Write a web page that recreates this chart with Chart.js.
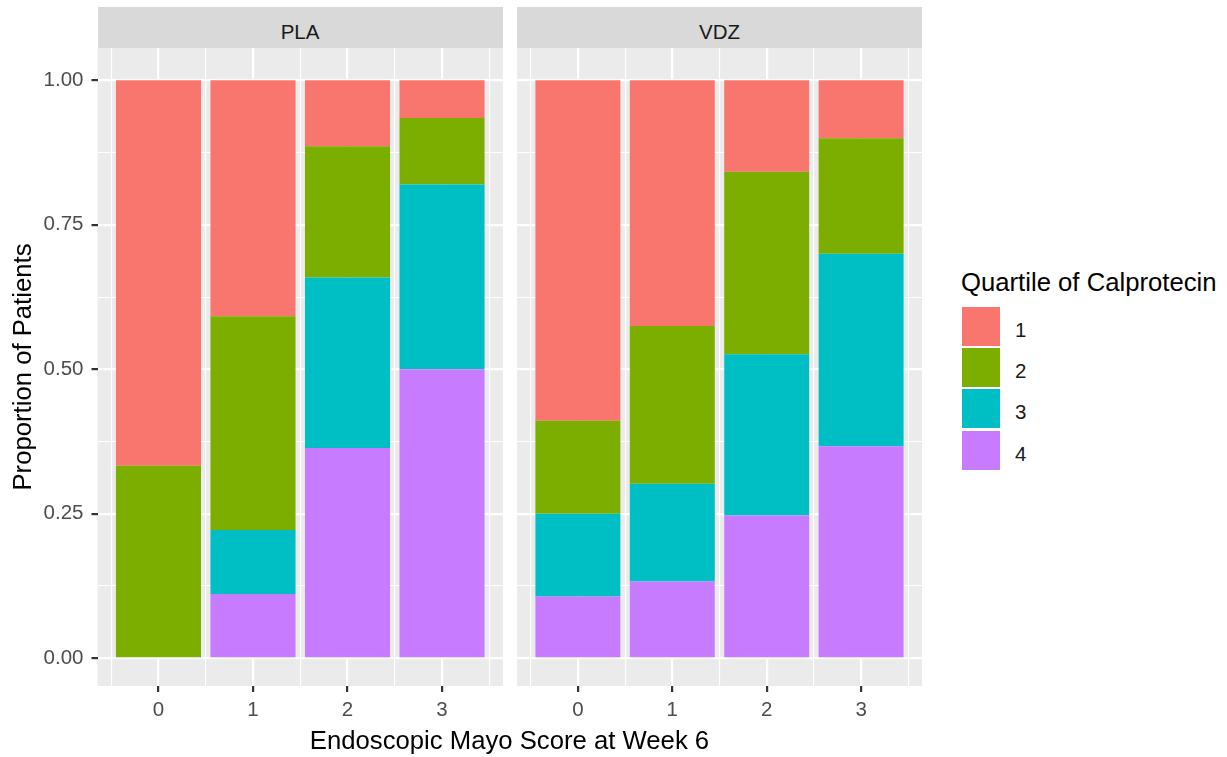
<!DOCTYPE html>
<html>
<head>
<meta charset="utf-8">
<script src="https://cdn.jsdelivr.net/npm/chart.js@4.4.1/dist/chart.umd.min.js"></script>
<style>
  html, body { margin: 0; padding: 0; background: #fff; }
  body {
    width: 1227px; height: 757px; position: relative; overflow: hidden;
    font-family: "Liberation Sans", Arial, sans-serif;
  }
  canvas { position: absolute; top: 0; }
  .strip {
    position: absolute; top: 7px; height: 41px; background: #D9D9D9;
    color: #1A1A1A; font-size: 20.5px; line-height: 41px; text-align: center;
    box-sizing: border-box; padding-top: 4px;
  }
  #xTitle {
    position: absolute; left: 0; width: 1019px; top: 728px;
    font-size: 25.7px; line-height: 25.7px; color: #000; text-align: center;
  }
  #legend { position: absolute; left: 961px; top: 270px; }
  #legend .title { font-size: 25.7px; line-height: 25.7px; color: #000; margin-bottom: 11px; }
  #legend .row { height: 41.3px; position: relative; }
  #legend .key {
    position: absolute; left: 1px; top: 0; width: 38px; height: 39px;
  }
  #legend .lab {
    position: absolute; left: 54px; top: 0; font-size: 20.5px;
    line-height: 41.3px; padding-top: 2px; color: #1A1A1A;
  }
</style>
</head>
<body>
<div class="strip" style="left:97.5px;width:405px;">PLA</div>
<div class="strip" style="left:517px;width:405px;">VDZ</div>
<canvas id="pla" width="503" height="757" style="left:0;"></canvas>
<canvas id="vdz" width="405" height="757" style="left:517px;"></canvas>
<div id="xTitle">Endoscopic Mayo Score at Week 6</div>
<div id="legend"></div>
<script>
// endoscopic Mayo score at week 6 (x positions)
const scores = [0, 1, 2, 3];
const quartiles = ['1', '2', '3', '4'];
const quartileColors = ['#F8766D', '#7CAE00', '#00BFC4', '#C77CFF'];
const yTicks = [0, 0.25, 0.5, 0.75, 1];

// proportion of patients in each calprotectin quartile, per score
const plaQ1 = [0.667, 0.408, 0.114, 0.065];
const plaQ2 = [0.333, 0.370, 0.227, 0.115];
const plaQ3 = [0.000, 0.111, 0.295, 0.320];
const plaQ4 = [0.000, 0.111, 0.364, 0.500];

const vdzQ1 = [0.589, 0.425, 0.158, 0.100];
const vdzQ2 = [0.161, 0.273, 0.316, 0.200];
const vdzQ3 = [0.143, 0.169, 0.279, 0.333];
const vdzQ4 = [0.107, 0.133, 0.247, 0.367];

const FONT = '"Liberation Sans", Arial, sans-serif';
Chart.defaults.font.family = FONT;
Chart.defaults.animation = false;

const yMinor = yTicks.slice(1).map((v, i) => (v + yTicks[i]) / 2);
const yAll = yTicks.concat(yMinor).sort((a, b) => a - b);
const xMinor = scores.map(v => v - 0.5).concat([scores[scores.length - 1] + 0.5]);
const X_MIN = -0.645, X_MAX = 3.645;
const Y_MIN = -0.048, Y_MAX = 1.056;

const panelBackground = {
  id: 'panelBackground',
  beforeDraw(chart) {
    const { ctx, chartArea: a } = chart;
    ctx.save();
    ctx.fillStyle = '#EBEBEB';
    ctx.fillRect(a.left, a.top, a.width, a.height);
    ctx.restore();
  },
};

function isMajorY(v) {
  return yTicks.some(t => Math.abs(t - v) < 1e-9);
}

function makeDatasets(series) {
  // ggplot stacks quartile 1 on top, so draw 4 first (bottom)
  return [3, 2, 1, 0].map(i => ({
    label: quartiles[i],
    data: scores.map((s, k) => ({ x: s, y: series[i][k] })),
    backgroundColor: quartileColors[i],
    borderWidth: 0,
    categoryPercentage: 1,
    barPercentage: 0.9,
  }));
}

function drawPanel(id, series, showY) {
  const el = document.getElementById(id);
  return new Chart(el.getContext('2d'), {
    type: 'bar',
    data: { datasets: makeDatasets(series) },
    plugins: [panelBackground],
    options: {
      responsive: false,
      layout: { padding: { top: 48, left: 0, right: 0, bottom: 0 } },
      plugins: { legend: { display: false }, tooltip: { enabled: false } },
      scales: {
        x: {
          type: 'linear',
          min: X_MIN,
          max: X_MAX,
          offset: false,
          stacked: true,
          afterBuildTicks: s => { s.ticks = scores.map(v => ({ value: v })); },
          afterFit: s => { s.height = 71; },
          border: { display: false },
          grid: {
            offset: false,
            color: '#FFFFFF', lineWidth: 2.2,
            tickLength: 6, tickColor: '#333333', tickWidth: 2.2,
          },
          ticks: {
            color: '#4D4D4D', font: { size: 20.5 }, padding: 6,
            autoSkip: false, maxRotation: 0, callback: v => String(v),
          },
        },
        xMinor: {
          type: 'linear',
          position: 'bottom',
          min: X_MIN,
          max: X_MAX,
          offset: false,
          afterBuildTicks: s => { s.ticks = xMinor.map(v => ({ value: v })); },
          afterFit: s => { s.height = 0; },
          border: { display: false },
          grid: { offset: false, color: '#FFFFFF', lineWidth: 1.1, drawTicks: false },
          ticks: { display: false },
        },
        y: {
          type: 'linear',
          min: Y_MIN,
          max: Y_MAX,
          stacked: true,
          afterBuildTicks: s => { s.ticks = yAll.map(v => ({ value: v })); },
          afterFit: s => { s.width = showY ? 97.5 : 0; },
          border: { display: false },
          grid: {
            color: '#FFFFFF',
            lineWidth: c => (isMajorY(c.tick.value) ? 2.2 : 1.1),
            drawTicks: showY,
            tickLength: 6,
            tickWidth: 2.2,
            tickColor: c => (isMajorY(c.tick.value) ? '#333333' : 'rgba(0,0,0,0)'),
          },
          ticks: {
            display: showY,
            color: '#4D4D4D', font: { size: 20.5 }, padding: 8, autoSkip: false,
            callback: v => (isMajorY(v) ? v.toFixed(2) : ''),
          },
          title: {
            display: showY,
            text: 'Proportion of Patients',
            color: '#000000',
            font: { size: 25.7 },
            padding: { top: 8, bottom: 0 },
          },
        },
      },
    },
  });
}

drawPanel('pla', [plaQ1, plaQ2, plaQ3, plaQ4], true);
drawPanel('vdz', [vdzQ1, vdzQ2, vdzQ3, vdzQ4], false);

// legend built from the same series names and colours
const legend = document.getElementById('legend');
legend.innerHTML = '<div class="title">Quartile of Calprotecin</div>' +
  quartiles.map((q, i) =>
    '<div class="row"><div class="key" style="background:' + quartileColors[i] +
    '"></div><div class="lab">' + q + '</div></div>').join('');
</script>
</body>
</html>
